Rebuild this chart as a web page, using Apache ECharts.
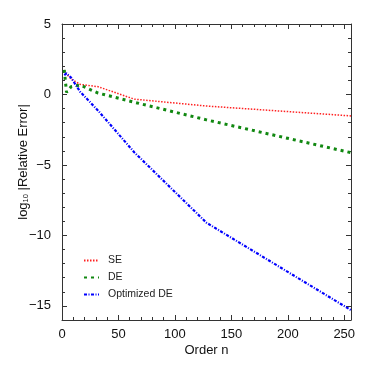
<!DOCTYPE html>
<html>
<head>
<meta charset="utf-8">
<script src="https://cdn.jsdelivr.net/npm/echarts@6/dist/echarts.min.js"></script>
<style>
  html, body { margin: 0; padding: 0; background: #fff; }
  #chart { width: 374px; height: 374px; }
</style>
</head>
<body>
<div id="chart"></div>
<script>
// order n and log10 of the relative error
const nValues = [2, 4, 8, 16, 32, 64, 128, 256];
const seErr = [1.72, 1.45, 1.1, 0.72, 0.55, -0.33, -0.82, -1.52];
const deErr = [1.75, 0.15, 0.55, 0.67, 0.1, -0.55, -1.8, -4.13];
const optDeErr = [1.38, 1.5, 1.2, 0.2, -1.15, -4.1, -9.1, -15.3];

const xTicks = [0, 50, 100, 150, 200, 250];
const yTicks = [-15, -10, -5, 0, 5];
const xMin = 0, xMax = 256, yMin = -16, yMax = 5;

const font = 'Liberation Sans';
const axisColor = '#333';

// minor ticks: every 10 on x, every 1 on y
const xMinor = [];
for (let v = 10; v < xMax; v += 10) if (v % 50 !== 0) xMinor.push(v);
const yMinor = [];
for (let v = yMin; v < yMax; v += 1) if (v % 5 !== 0) yMinor.push(v);

function pts(ys) {
  return nValues.map((n, i) => [n, ys[i]]);
}

function axis(pos, min, max, ticks, len, opts) {
  opts = opts || {};
  return Object.assign({
    type: 'value',
    position: pos,
    min: min,
    max: max,
    splitLine: { show: false },
    axisLine: { show: !!opts.line, onZero: false, lineStyle: { color: axisColor, width: 1 } },
    axisTick: { show: true, inside: true, length: len, customValues: ticks, lineStyle: { color: axisColor, width: 1 } },
    axisLabel: opts.label ? {
      show: true,
      customValues: ticks,
      fontFamily: font,
      fontSize: 13,
      color: '#111',
      margin: opts.margin,
      formatter: v => String(v).replace('-', '\u2212')
    } : { show: false }
  }, opts.extra || {});
}

const chart = echarts.init(document.getElementById('chart'));

chart.setOption({
  animation: false,
  backgroundColor: '#fff',
  grid: { left: 62, right: 23, top: 24, bottom: 54 },
  legend: {
    orient: 'vertical',
    left: 78,
    top: 250,
    itemWidth: 15,
    itemHeight: 10,
    itemGap: 6,
    itemStyle: { opacity: 0 },
    textStyle: { fontFamily: font, fontSize: 10.5, color: '#222', padding: [0, 0, 0, 4] },
    data: ['SE', 'DE', 'Optimized DE']
  },
  xAxis: [
    axis('bottom', xMin, xMax, xTicks, 5, {
      line: true, label: true, margin: 8,
      extra: { name: 'Order n', nameLocation: 'middle', nameGap: 24, nameMoveOverlap: false,
        nameTextStyle: { fontFamily: font, fontSize: 13, color: '#111' } }
    }),
    axis('bottom', xMin, xMax, xMinor, 3),
    axis('top', xMin, xMax, xTicks, 5, { line: true }),
    axis('top', xMin, xMax, xMinor, 3)
  ],
  yAxis: [
    axis('left', yMin, yMax, yTicks, 5, {
      line: true, label: true, margin: 11,
      extra: {
        name: '{t|log}{s|10}{t| |Relative Error|}',
        nameLocation: 'middle', nameRotate: 90, nameGap: 32, nameMoveOverlap: false,
        nameTextStyle: {
          fontFamily: font, fontSize: 13, color: '#111',
          padding: [0, 0, 0, 20],
          rich: {
            t: { fontFamily: font, fontSize: 13, color: '#111', lineHeight: 16, verticalAlign: 'bottom' },
            s: { fontFamily: font, fontSize: 7.5, color: '#111', lineHeight: 7, verticalAlign: 'bottom' }
          }
        }
      }
    }),
    axis('left', yMin, yMax, yMinor, 3),
    axis('right', yMin, yMax, yTicks, 5, { line: true }),
    axis('right', yMin, yMax, yMinor, 3)
  ],
  series: [
    {
      name: 'SE', type: 'line', data: pts(seErr),
      showSymbol: false, symbol: 'none',
      color: '#ff2020',
      lineStyle: { color: '#ff2020', width: 1.5, type: [1.5, 1.5] }
    },
    {
      name: 'DE', type: 'line', data: pts(deErr),
      showSymbol: false, symbol: 'none',
      color: '#118811',
      lineStyle: { color: '#118811', width: 3, type: [3, 4] }
    },
    {
      name: 'Optimized DE', type: 'line', data: pts(optDeErr),
      showSymbol: false, symbol: 'none',
      color: '#0000ff',
      lineStyle: { color: '#0000ff', width: 2.2, type: [3, 1.5, 1, 1.5] }
    }
  ]
});
</script>
</body>
</html>
